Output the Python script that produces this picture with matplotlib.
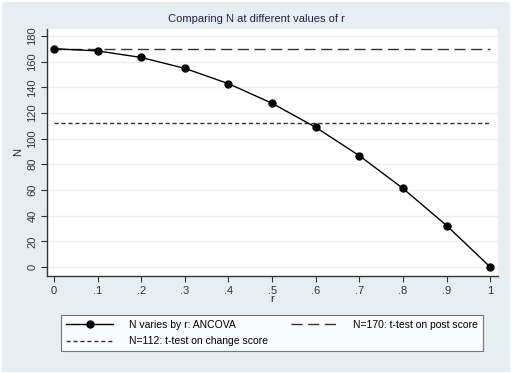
import matplotlib.pyplot as plt
from matplotlib.patches import Rectangle

r_values = [0, 0.1, 0.2, 0.3, 0.4, 0.5, 0.6, 0.7, 0.8, 0.9, 1.0]
n_ancova = [170, 168.3, 163.2, 154.7, 142.8, 127.5, 108.8, 86.7, 61.2, 32.3, 0]
n_post = 170
n_change = 112
x_ticks = [0, 0.1, 0.2, 0.3, 0.4, 0.5, 0.6, 0.7, 0.8, 0.9, 1.0]
x_labels = ["0", ".1", ".2", ".3", ".4", ".5", ".6", ".7", ".8", ".9", "1"]
y_ticks = [0, 20, 40, 60, 80, 100, 120, 140, 160, 180]

bg = "#e7eef2"
plt.rcParams['font.family'] = ['Liberation Sans', 'DejaVu Sans']

fig = plt.figure(figsize=(5.12, 3.73), dpi=100, facecolor="white")
fig.patches.append(Rectangle((0.004, 0.003), 0.992, 0.992, transform=fig.transFigure,
                             facecolor=bg, edgecolor="none", zorder=-10))
ax = fig.add_axes([0.0918, 0.26, 0.881, 0.6627])
ax.set_facecolor("white")

for y in y_ticks:
    ax.axhline(y, color="#eaf0f2", lw=1.0, zorder=0)

l1, = ax.plot(r_values, n_ancova, color="black", lw=1.0, marker="o", markersize=5,
              label="N varies by r: ANCOVA", zorder=3)
l2, = ax.plot([0, 1], [n_post, n_post], color="#333333", lw=1.0, dashes=(8, 4),
              label="N=170: t-test on post score", zorder=2)
l3, = ax.plot([0, 1], [n_change, n_change], color="#333333", lw=1.0, dashes=(3, 2),
              label="N=112: t-test on change score", zorder=2)

ax.set_xlim(-0.016, 1.018)
ax.set_ylim(-7, 185.5)
ax.set_xticks(x_ticks)
ax.set_xticklabels(x_labels)
ax.set_yticks(y_ticks)
for lab in ax.get_yticklabels():
    lab.set_rotation(90)
    lab.set_va("center")

ax.spines["top"].set_visible(False)
ax.spines["right"].set_visible(False)
for s in ("left", "bottom"):
    ax.spines[s].set_color("#333333")
    ax.spines[s].set_linewidth(1.0)
ax.tick_params(labelsize=8, colors="#333333", length=4, width=0.8, pad=3)

ax.set_xlabel("r", fontsize=8, color="#222222", labelpad=-1)
ax.set_ylabel("N", fontsize=8, color="#222222", labelpad=3)
fig.text(0.5, 0.935, "Comparing N at different values of r", ha="center", va="bottom",
         fontsize=8, color="#222244")

# column-first fill: row 1 = ANCOVA / post score, row 2 = change score
leg = fig.legend(handles=[l1, l3, l2], loc="center", bbox_to_anchor=(0.532, 0.107),
                 ncol=2, fontsize=7.5, frameon=True, fancybox=False, handlelength=4.5,
                 columnspacing=2.2, handletextpad=1.5, borderpad=0.5, labelspacing=0.6)
leg.get_frame().set_edgecolor("#555555")
leg.get_frame().set_linewidth(0.8)

fig.savefig("out.png", dpi=100, facecolor=fig.get_facecolor())
